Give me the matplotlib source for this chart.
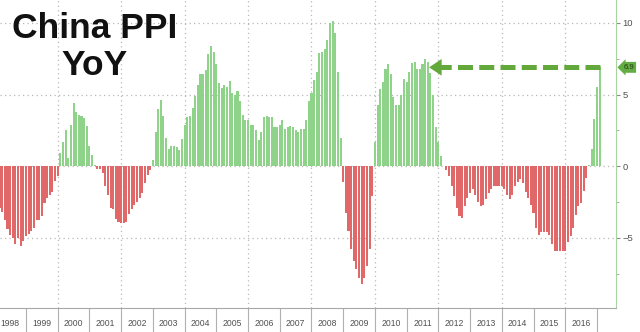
import numpy as np
import matplotlib
matplotlib.use("Agg")
import matplotlib.pyplot as plt
from matplotlib import transforms

# China producer price index, % change year on year, monthly from Jan 1998
ppi_yoy = [
    -2.6, -2.9, -3.2, -3.75, -4.4, -4.8, -5.0, -5.4, -5.0, -5.6, -5.2, -4.9,    # 1998
    -4.7, -4.5, -4.3, -3.75, -3.75, -3.5, -2.6, -2.2, -2.0, -1.8, -1.0, -0.7,   # 1999
    0.9, 1.7, 2.5, 0.6, 2.9, 4.4, 3.8, 3.6, 3.5, 3.35, 2.8, 1.4,                # 2000
    0.8, 0.1, -0.2, -0.2, -0.5, -1.4, -2.0, -2.9, -3.0, -3.7, -3.9, -4.0,       # 2001
    -4.0, -3.9, -3.35, -3.0, -2.7, -2.5, -2.2, -1.85, -1.2, -0.6, -0.3, 0.4,    # 2002
    2.4, 4.0, 4.6, 3.5, 2.0, 1.2, 1.4, 1.4, 1.35, 1.1, 1.9, 2.9,                # 2003
    3.45, 3.5, 4.05, 4.9, 5.7, 6.4, 6.4, 6.7, 7.8, 8.4, 8.0, 7.1,               # 2004
    5.8, 5.45, 5.7, 5.5, 5.95, 5.1, 5.0, 5.25, 4.55, 3.6, 3.2, 3.2,             # 2005
    2.9, 2.9, 2.5, 1.8, 2.4, 3.45, 3.5, 3.4, 3.4, 2.75, 2.75, 2.9,              # 2006
    3.2, 2.6, 2.7, 2.8, 2.7, 2.5, 2.4, 2.6, 2.6, 3.2, 4.55, 5.1,                # 2007
    6.0, 6.6, 7.9, 8.0, 8.2, 8.8, 10.0, 10.1, 9.3, 6.6, 2.0, -1.1,              # 2008
    -3.3, -4.5, -5.8, -6.6, -7.2, -7.8, -8.2, -7.8, -7.0, -5.8, -2.1, 1.7,      # 2009
    4.3, 5.4, 5.9, 6.8, 7.1, 6.4, 4.8, 4.3, 4.3, 5.0, 6.1, 5.9,                 # 2010
    6.6, 7.2, 7.3, 6.8, 6.8, 7.1, 7.5, 7.3, 6.5, 5.0, 2.7, 1.7,                 # 2011
    0.7, 0.0, -0.3, -0.7, -1.4, -2.1, -2.9, -3.5, -3.6, -2.8, -2.2, -1.9,       # 2012
    -1.6, -2.0, -2.5, -2.8, -2.7, -2.3, -1.9, -1.6, -1.4, -1.4, -1.4, -1.4,     # 2013
    -1.6, -2.0, -2.3, -2.0, -1.4, -1.1, -0.9, -1.2, -1.8, -2.2, -2.7, -3.3,     # 2014
    -4.3, -4.8, -4.6, -4.6, -4.6, -4.8, -5.4, -5.9, -5.9, -5.9, -5.9, -5.9,     # 2015
    -5.3, -4.9, -4.3, -3.4, -2.8, -2.6, -1.7, -0.8, 0.1, 1.2, 3.3, 5.5,         # 2016
    6.9,                                                                        # 2017
]
start_year = 1998
year_labels = [str(y) for y in range(1998, 2017)]
y_ticks = [-5, 0, 5, 10]
last_value = ppi_yoy[-1]
peak_2011 = 2011 + 8.5 / 12      # where the arrow points back to

GREEN, RED = "#8fd38a", "#e06868"
ARROW = "#63a83a"
GRID = "#b8b8b8"

vals = np.array(ppi_yoy)
t = start_year + (np.arange(len(vals)) + 1) / 12.0   # bars sit at month end

fig = plt.figure(figsize=(6.4, 3.32), dpi=100)
ax = fig.add_axes([0, 24 / 332, 616 / 640, 308 / 332])
ax.set_axisbelow(True)

ax.bar(t, vals, width=0.78 / 12, color=np.where(vals >= 0, GREEN, RED), linewidth=0)

ax.set_xlim(1998.18, 2017.6)
ax.set_ylim(-9.9, 11.6)

# dotted grid: every level tick, every second year
for y in y_ticks:
    ax.axhline(y, color=GRID, lw=0.9, ls=(0, (1, 2.6)), zorder=0)
for yr in range(2000, 2017, 2):
    ax.axvline(yr, color=GRID, lw=0.9, ls=(0, (1, 2.6)), zorder=0)

# frame
for s in ("top", "left"):
    ax.spines[s].set_visible(False)
ax.spines["bottom"].set_color("#a8a8a8")
ax.spines["right"].set_color("#a9d3a0")

# value axis on the right
ax.yaxis.tick_right()
ax.set_yticks(y_ticks)
ax.set_yticks([-7.5, -2.5, 2.5, 7.5], minor=True)
ax.tick_params(axis="y", which="major", length=3, width=0.8, color="#8c8c8c",
               labelsize=6.8, labelcolor="#505050", pad=1.5)
ax.tick_params(axis="y", which="minor", length=2, width=0.6, color="#a0a0a0")
for lab in ax.get_yticklabels():
    lab.set_family("Liberation Sans")

# year boxes along the bottom: long separators at year starts, labels centred
ax.set_xticks(range(1999, 2018))
ax.set_xticklabels([])
ax.set_xticks([y + 0.5 for y in range(1998, 2017)], minor=True)
ax.set_xticklabels(year_labels, minor=True)
ax.tick_params(axis="x", which="major", length=17.5, width=0.8, color="#b0b0b0", direction="out")
ax.tick_params(axis="x", which="minor", length=0, pad=8, labelsize=6.2, labelcolor="#505050")
for lab in ax.get_xticklabels(minor=True):
    lab.set_family(["Liberation Sans Narrow", "Liberation Sans"])

# dashed arrow from the latest print back to the 2011 high
ax.plot([t[-1] + 0.01, peak_2011 + 0.35], [last_value, last_value], color=ARROW,
        lw=3.6, ls=(0, (3, 1.25)), solid_capstyle="butt", dash_capstyle="butt", zorder=4)
ax.annotate("", xy=(peak_2011, last_value), xytext=(peak_2011 + 0.4, last_value),
            arrowprops=dict(arrowstyle="-|>,head_length=0.9,head_width=0.6",
                            color=ARROW, lw=0, shrinkA=0, shrinkB=0), zorder=5)

# last value tag on the axis
trans = transforms.blended_transform_factory(ax.transAxes, ax.transData)
ax.text(1.012, last_value, f"{last_value:.1f}", transform=trans, ha="left", va="center",
        fontsize=5.6, color="#1d3d12", family="Liberation Sans", clip_on=False,
        bbox=dict(boxstyle="larrow,pad=0.25", fc="#64ad45", ec="none"))

fig.text(95 / 640, 1 - 38 / 332, "China PPI", ha="center", va="baseline",
         fontsize=25.5, fontweight="bold", family="Liberation Sans", color="#111111")
fig.text(95 / 640, 1 - 75 / 332, "YoY", ha="center", va="baseline",
         fontsize=25.5, fontweight="bold", family="Liberation Sans", color="#111111")

fig.savefig("out.png", dpi=100)
